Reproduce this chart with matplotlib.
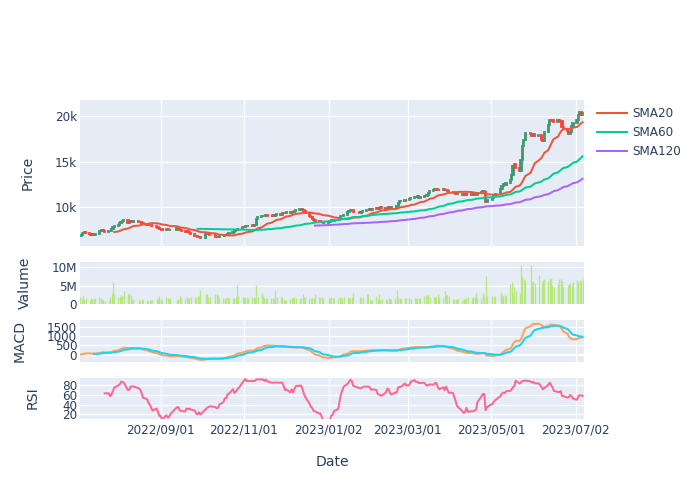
import numpy as np
import pandas as pd
import matplotlib
matplotlib.use("Agg")
import matplotlib.pyplot as plt
from matplotlib.ticker import FixedLocator, FixedFormatter
import matplotlib.dates as mdates

plt.rcParams['font.family'] = ['DejaVu Sans']

# ---------------- data ----------------
START = '2022-07-04'
END = '2023-07-07'
HOLIDAYS = ['2022-08-15', '2022-09-09', '2022-09-12', '2022-10-03', '2022-10-10',
            '2022-12-30', '2023-01-23', '2023-01-24', '2023-03-01', '2023-05-01',
            '2023-05-05', '2023-05-29', '2023-06-06']

# daily close, thousands
close_k = [
    # 2022-07
    6.90, 7.00, 7.15, 7.25, 7.20, 7.10, 7.00, 7.05, 6.95, 7.10,
    7.40, 7.45, 7.50, 7.35, 7.30, 7.40, 7.35, 7.60, 7.80, 8.00,
    # 2022-08
    8.05, 8.25, 8.40, 8.50, 8.60, 8.25, 8.35, 8.45, 8.40, 8.50, 8.35,
    8.40, 8.30, 8.15, 8.10, 8.05, 8.10, 8.00, 7.95, 7.80, 7.75, 7.65,
    # 2022-09
    7.60, 7.55, 7.65, 7.60, 7.50, 7.55, 7.75, 7.70, 7.55, 7.40,
    7.30, 7.35, 7.25, 7.20, 7.05, 6.90, 6.85, 6.70, 6.75, 6.60,
    # 2022-10
    7.05, 7.10, 7.05, 6.95, 6.80, 6.75, 6.70, 6.85, 6.90, 7.00,
    6.95, 7.05, 7.15, 7.30, 7.40, 7.55, 7.65, 7.60, 7.80,
    # 2022-11
    7.85, 7.95, 7.90, 7.95, 8.05, 8.00, 8.10, 8.70, 8.95, 9.00, 9.10,
    9.05, 9.15, 9.10, 9.05, 9.15, 9.10, 9.20, 9.25, 9.20, 9.35, 9.40,
    # 2022-12
    9.35, 9.45, 9.40, 9.50, 9.45, 9.60, 9.70, 9.85, 9.80, 9.70, 9.55,
    9.35, 9.10, 8.90, 8.75, 8.60, 8.50, 8.45, 8.40, 8.35, 8.30,
    # 2023-01
    8.35, 8.45, 8.60, 8.55, 8.65, 8.60, 8.80, 9.05, 9.10, 9.20,
    9.45, 9.60, 9.75, 9.65, 9.45, 9.35, 9.50, 9.60, 9.75, 9.70,
    # 2023-02
    9.80, 9.75, 9.85, 9.90, 9.80, 9.95, 10.00, 9.90, 9.85, 9.95,
    10.05, 9.95, 10.00, 10.05, 10.15, 10.50, 10.65, 10.70, 10.85, 10.80,
    # 2023-03
    10.90, 11.05, 11.15, 11.10, 11.20, 11.05, 11.15, 11.25, 11.20, 11.35, 11.55,
    11.75, 11.85, 11.95, 12.05, 11.90, 11.85, 11.95, 11.85, 11.90, 11.80, 11.70,
    # 2023-04
    11.65, 11.55, 11.50, 11.45, 11.50, 11.40, 11.45, 11.40, 11.50, 11.45,
    11.40, 11.45, 11.40, 11.35, 11.55, 11.70, 11.75, 11.70, 10.60, 10.75,
    # 2023-05
    11.05, 11.20, 11.45, 11.95, 12.30, 12.50, 12.40, 12.70, 13.00, 13.50,
    14.50, 14.70, 14.30, 14.00, 15.20, 16.70, 17.40, 18.10, 18.00, 17.80,
    # 2023-06
    18.05, 17.85, 17.95, 17.40, 17.30, 18.20, 19.00, 19.60, 19.40, 19.55, 19.30,
    19.60, 19.50, 19.45, 18.80, 18.60, 18.40, 18.00, 18.30, 18.90, 19.20,
    # 2023-07
    19.60, 20.10, 20.40, 20.15, 20.30,
]

# daily volume, millions
volume_m = [
    # 2022-07
    1.8, 1.4, 2.2, 1.3, 1.5, 1.2, 1.6, 1.4, 1.3, 1.7,
    2.0, 1.5, 1.3, 1.0, 0.9, 1.2, 1.8, 2.9, 5.9, 2.7,
    # 2022-08
    2.0, 1.9, 2.5, 2.2, 3.6, 2.6, 2.9, 2.5, 1.2, 1.3, 1.2,
    1.1, 1.3, 1.0, 1.1, 0.9, 1.0, 1.2, 1.0, 1.3, 1.6, 2.3,
    # 2022-09
    1.4, 1.2, 1.8, 1.5, 1.3, 1.6, 1.2, 1.3, 2.3, 1.7,
    1.6, 1.8, 1.7, 1.6, 1.8, 1.7, 1.9, 2.3, 2.2, 3.7,
    # 2022-10
    2.8, 2.7, 1.8, 1.9, 2.7, 2.6, 2.4, 1.6, 1.7, 1.5,
    1.6, 1.8, 1.5, 1.7, 1.6, 1.8, 5.2, 2.3, 1.8,
    # 2022-11
    1.8, 1.6, 2.0, 1.7, 1.9, 1.8, 1.6, 5.2, 2.0, 3.0, 2.1,
    1.5, 1.4, 1.6, 1.5, 1.7, 1.4, 3.7, 2.0, 1.8, 1.9, 1.2,
    # 2022-12
    1.2, 1.1, 1.3, 1.6, 1.5, 1.8, 1.7, 1.5, 1.6, 2.7, 2.0,
    1.8, 1.6, 1.5, 1.7, 1.6, 2.7, 1.9, 1.6, 1.8, 1.7,
    # 2023-01
    1.7, 1.6, 1.8, 1.6, 1.7, 1.5, 1.8, 1.6, 1.7, 1.9,
    1.8, 1.6, 1.7, 1.9, 3.1, 1.8, 1.7, 1.9, 2.8, 2.7,
    # 2023-02
    1.3, 1.2, 1.1, 2.2, 1.3, 2.7, 1.2, 1.3, 1.4, 1.2,
    1.5, 1.4, 1.3, 1.5, 3.7, 1.6, 1.5, 1.4, 1.6, 1.5,
    # 2023-03
    1.5, 1.4, 1.6, 1.5, 1.4, 1.5, 1.7, 2.2, 2.4, 2.3, 2.5,
    2.0, 1.9, 1.8, 2.0, 2.7, 1.8, 1.7, 3.4, 2.4, 2.5, 2.3,
    # 2023-04
    1.4, 1.3, 1.2, 1.3, 1.4, 1.2, 1.3, 1.4, 1.5, 1.8,
    1.7, 1.9, 1.8, 2.9, 1.7, 1.6, 3.1, 2.2, 7.7, 2.3,
    # 2023-05
    2.2, 2.0, 2.3, 3.2, 2.5, 2.2, 2.5, 2.3, 5.3, 6.1,
    2.9, 4.5, 3.4, 3.0, 10.5, 7.7, 6.8, 6.4, 10.5, 6.0,
    # 2023-06
    6.2, 5.8, 8.0, 6.1, 6.6, 6.9, 6.3, 6.7, 7.1, 5.2, 4.7,
    5.4, 6.9, 6.8, 6.3, 4.7, 5.1, 5.3, 5.6, 5.2, 6.1,
    # 2023-07
    6.4, 5.9, 6.6, 6.3, 6.9,
]

TICK_DATES = ['2022-09-01', '2022-11-01', '2023-01-02', '2023-03-01', '2023-05-01', '2023-07-02']
SMA_WINDOWS = [20, 60, 120]
SMA_COLORS = ['#EF553B', '#00CC96', '#AB63FA']

# ---------------- derived series ----------------
dates = pd.bdate_range(START, END)
dates = dates[~dates.isin(pd.to_datetime(HOLIDAYS))]
n = min(len(dates), len(close_k), len(volume_m))
dates = dates[:n]
close = pd.Series(np.array(close_k[:n]) * 1000.0, index=dates)
volume = pd.Series(np.array(volume_m[:n]) * 1e6, index=dates)
open_ = close.shift(1).fillna(close.iloc[0])

ema12 = close.ewm(span=12, adjust=False).mean()
ema26 = close.ewm(span=26, adjust=False).mean()
macd = ema12 - ema26
signal = macd.ewm(span=9, adjust=False, min_periods=9).mean()
delta = close.diff()
gain = delta.clip(lower=0).rolling(14).mean()
loss = (-delta.clip(upper=0)).rolling(14).mean()
rsi = 100 - 100 / (1 + gain / loss.replace(0, np.nan))
rsi = rsi.fillna(100).where(gain.notna())

# ---------------- figure ----------------
TXT = '#2a3f5f'
BG = '#E5ECF6'
FS = 8.64
fig = plt.figure(figsize=(7, 5), dpi=100)
L, W = 80 / 700, 504 / 700

def mk(top, bot):
    ax = fig.add_axes([L, 1 - bot / 500, W, (bot - top) / 500])
    ax.set_facecolor(BG)
    for s in ax.spines.values():
        s.set_visible(False)
    ax.set_axisbelow(True)
    ax.tick_params(length=0, labelsize=FS, labelcolor=TXT, pad=2)
    return ax

ax_p = mk(100, 246)
ax_v = mk(262, 304)
ax_m = mk(320, 362)
ax_r = mk(378, 419)

xl = (pd.Timestamp('2022-07-03 21:36'), pd.Timestamp('2023-07-08 02:00'))
ticks = mdates.date2num(pd.to_datetime(TICK_DATES))
for ax in (ax_p, ax_v, ax_m, ax_r):
    ax.set_xlim(xl)
    ax.xaxis.set_major_locator(FixedLocator(ticks))
    ax.grid(True, axis='y', color='white', lw=0.9)
    if ax is not ax_v:
        ax.grid(True, axis='x', color='white', lw=0.9)
    if ax is not ax_r:
        ax.tick_params(axis='x', labelbottom=False)
ax_r.xaxis.set_major_formatter(mdates.DateFormatter('%Y/%m/%d'))
ax_r.tick_params(axis='x', pad=3)

# candles
up = close >= open_
cols = np.where(up, '#3D9970', '#FF4136')
body_lo = np.minimum(open_, close)
body_h = np.abs(close - open_)
ax_p.bar(dates, body_h, bottom=body_lo, width=0.9, color=cols, edgecolor=cols, linewidth=1.3, zorder=2)
lines = []
for w, c in zip(SMA_WINDOWS, SMA_COLORS):
    ln, = ax_p.plot(dates, close.rolling(w).mean(), color=c, lw=1.44, zorder=3, label=f'SMA{w}')
    lines.append(ln)
ax_p.set_ylim(5760, 21750)
ax_p.yaxis.set_major_locator(FixedLocator([10000, 15000, 20000]))
ax_p.yaxis.set_major_formatter(FixedFormatter(['10k', '15k', '20k']))

# volume
ax_v.vlines(dates, 0, volume, colors='#B6E880', linewidth=0.95, zorder=2)
ax_v.set_ylim(0, 11.4e6)
ax_v.yaxis.set_major_locator(FixedLocator([0, 5e6, 10e6]))
ax_v.yaxis.set_major_formatter(FixedFormatter(['0', '5M', '10M']))

# macd
ax_m.axhline(0, color='white', lw=1.6, zorder=1)
ax_m.plot(dates, macd, color='#FFA15A', lw=1.44, zorder=3)
ax_m.plot(dates, signal, color='#19D3F3', lw=1.44, zorder=3)
ax_m.set_ylim(-400, 1860)
ax_m.yaxis.set_major_locator(FixedLocator([0, 500, 1000, 1500]))
ax_m.yaxis.set_major_formatter(FixedFormatter(['0', '500', '1000', '1500']))

# rsi
ax_r.plot(dates, rsi, color='#FF6692', lw=1.44, zorder=3)
ax_r.set_ylim(10.3, 95)
ax_r.yaxis.set_major_locator(FixedLocator([20, 40, 60, 80]))
ax_r.yaxis.set_major_formatter(FixedFormatter(['20', '40', '60', '80']))

# titles
TFS = 10.08
fig.text(28 / 700, 1 - 173 / 500, 'Price', rotation=90, ha='center', va='center', fontsize=TFS, color=TXT)
fig.text(25 / 700, 1 - 283 / 500, 'Valume', rotation=90, ha='center', va='center', fontsize=TFS, color=TXT)
fig.text(20 / 700, 1 - 341 / 500, 'MACD', rotation=90, ha='center', va='center', fontsize=TFS, color=TXT)
fig.text(33 / 700, 1 - 398 / 500, 'RSI', rotation=90, ha='center', va='center', fontsize=TFS, color=TXT)
fig.text(332 / 700, 1 - 462 / 500, 'Date', ha='center', va='center', fontsize=TFS, color=TXT)

leg = ax_p.legend(handles=lines, loc='upper left', bbox_to_anchor=(597 / 700, 1 - 107 / 500),
                  bbox_transform=fig.transFigure, frameon=False, handlelength=2.5,
                  handletextpad=0.4, labelspacing=0.5, borderpad=0, borderaxespad=0,
                  prop={'size': FS})
for t in leg.get_texts():
    t.set_color(TXT)

fig.savefig('out.png', dpi=100, facecolor='white')
